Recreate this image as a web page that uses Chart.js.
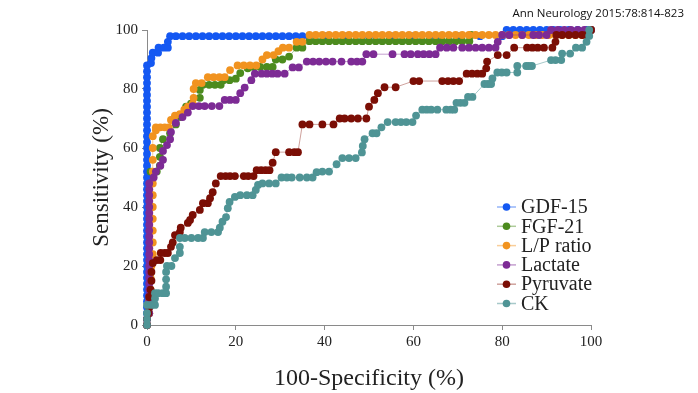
<!DOCTYPE html>
<html>
<head>
<meta charset="utf-8">
<script src="https://cdn.jsdelivr.net/npm/chart.js@4.4.1/dist/chart.umd.min.js"></script>
<style>
  html, body { margin: 0; padding: 0; background: #fff; }
  #box { position: relative; width: 698px; height: 393px; }
</style>
</head>
<body>
<div id="box"><canvas id="stage"></canvas></div>
<script>
// ROC curves, [100-specificity, sensitivity]
const seriesNames = ['GDF-15', 'FGF-21', 'L/P ratio', 'Lactate', 'Pyruvate', 'CK'];
const seriesColors = ['#1458f2', '#4c8b1e', '#f1931f', '#7d2b95', '#7b0e05', '#4f9495'];
const lineColors = ['rgba(20,88,242,0.45)', 'rgba(76,139,30,0.45)', 'rgba(241,147,31,0.45)',
                    'rgba(125,43,149,0.45)', 'rgba(160,70,60,0.5)', 'rgba(79,148,149,0.5)'];
const xTicks = [0, 20, 40, 60, 80, 100];
const yTicks = [0, 20, 40, 60, 80, 100];
const citation = 'Ann Neurology 2015:78:814-823';

const gdf15 = [[0,0],[0,2],[0,4],[0,6],[0,8],[0,10],[0,12],[0,14],[0,16],[0,18],[0,20],[0,22],[0,24],[0,26],[0,28],[0,30],
  [0,32],[0,34],[0,36],[0,38],[0,40],[0,42],[0,44],[0,46],[0,48],[0,50],[0,52],[0,54],[0,56],[0,58],[0,60],[0,62],[0,64],
  [0,66],[0,68],[0,70],[0,72],[0,74],[0,76],[0,78],[0,80],[0,82],[0,84],[0,86],[0,88],[0.9,88.8],[1,90.5],[1.3,92.3],
  [2.5,92.3],[2.6,94],[3.8,94],[4.7,94],[4.7,96],[5.2,97.9],[6.5,97.9],[8,97.9],[9.5,97.9],[11,97.9],[12.5,97.9],[14,97.9],
  [15.5,97.9],[17,97.9],[18.5,97.9],[20,97.9],[21.5,97.9],[23,97.9],[24.5,97.9],[26,97.9],[27.5,97.9],[29,97.9],[30.5,97.9],
  [32,97.9],[33.5,97.9],[35,97.9],[36.5,97.9],[40,97.9],[45,97.9],[50,97.9],[55,97.9],[60,97.9],[65,97.9],[70,97.9],
  [75,97.9],[80,97.9],[81,100],[82.5,100],[84,100],[85.5,100],[87,100],[88.5,100],[90,100],[91.5,100],[93,100],[95,100],
  [97,100],[99,100],[100,100]];

const fgf21 = [[0,0],[0.5,4],[0.5,8],[0.7,12],[0.7,16],[0.8,20],[0.8,24],[0.8,28],[0.8,32],[0.8,36],[0.8,40],[0.8,44],
  [0.8,48],[0.8,52],[2.2,52],[2.9,54],[2.9,57],[2.9,60],[3.6,63],[5.2,65],[6.5,68],[7.6,70.5],[8.8,74],[9.9,75],[11.9,77],
  [11.9,79.7],[12.6,81.4],[14,81.4],[15.3,81.4],[16.6,81.4],[17.2,83],[18.6,83],[20,83.5],[21,85.4],[22.7,87],[24,87.5],
  [25.5,87.5],[27,87.5],[28.3,87.5],[29,90],[30.5,90],[32,91],[33.7,94],[35,94],[36.6,96.2],[38,96.2],[39.5,96.2],
  [41,96.2],[42.5,96.2],[44,96.2],[45.5,96.2],[47,96.2],[48.5,96.2],[50,96.2],[51.5,96.2],[53,96.2],[54.5,96.2],
  [56,96.2],[57.5,96.2],[59,96.2],[60.5,96.2],[62,96.2],[63.5,96.2],[65,96.2],[66.5,96.2],[68,96.2],[69.5,96.2],
  [71,96.2],[72.6,96.2],[73,98.3],[100,100]];

const lpRatio = [[0,0],[0.5,4],[0.5,8],[0.8,12],[0.8,16],[1,20],[1.3,24],[1.3,28],[1.3,32],[1.3,36],[1.3,40],[1.3,44],
  [1.3,48],[1.3,52],[1.3,56],[1.3,60],[1.3,64],[2,66],[2,67],[3,67],[4,67],[4.9,67],[5.4,69.5],[6.3,71],[7.4,71.5],
  [8.4,73],[9.2,74],[10.3,75],[10.5,77],[10.5,80],[11,82],[12.3,82],[13.7,84],[15,84],[16.3,84],[17.5,84],[18.7,86.4],
  [20.4,88],[21.8,88],[23.2,88],[24.6,88],[26,90],[27,91.5],[28.5,91.5],[29.6,92.8],[30.6,94],[32,94],[33.7,96],[35,96],
  [36.6,98.3],[38,98.3],[39.5,98.3],[41,98.3],[42.5,98.3],[44,98.3],[45.5,98.3],[47,98.3],[48.5,98.3],[50,98.3],
  [51.5,98.3],[53,98.3],[54.5,98.3],[56,98.3],[57.5,98.3],[59,98.3],[60.5,98.3],[62,98.3],[63.5,98.3],[65,98.3],
  [66.5,98.3],[68,98.3],[69.5,98.3],[71,98.3],[72.5,98.3],[74,98.3],[75.5,98.3],[77,98.3],[78.5,98.3],[80,98.3],
  [81.5,98.3],[83,98.3],[84.5,98.3],[86,98.3],[87.5,98.3],[89,98.3],[90.5,98.3],[92,98.3],[93.5,98.3],[95,98.3],
  [96.5,98.3],[98,98.3],[99.3,98.3],[100,100]];

const lactate = [[0,0],[0,2],[0.5,4],[0.5,6],[0.5,8],[0.5,10],[0.5,12],[0.5,14],[0.5,16],[0.5,18],[0.5,20],[0.5,22],
  [0.5,24],[0.5,26],[0.5,28],[0.5,30],[0.5,32],[0.5,34],[0.5,36],[0.5,38],[0.5,40],[0.5,42],[0.5,44],[0.5,46],[0.5,48],
  [1.5,50],[2,52],[3,54],[3.6,56],[3.6,59],[4.5,61],[5.2,63],[5.4,65.4],[6.5,68.5],[8,70.5],[9.2,72],[10.3,74.2],
  [11.7,74.2],[13,74.2],[14.6,74.2],[16.3,74.2],[17.5,76.3],[18.7,76.3],[20,76.3],[21,78.6],[22,80.5],[23.5,83],
  [24.3,85.2],[25.8,85.2],[27,85.2],[28.2,85.2],[29.4,85.2],[31,85.2],[32.8,87.3],[34.2,87.3],[36,89.3],[37.4,89.3],
  [38.8,89.3],[40.3,89.3],[41.8,89.3],[43.8,89.3],[46,89.3],[47.3,89.3],[48.5,89.3],[49.4,91.8],[51,91.8],[55.3,91.8],
  [58,91.8],[59.4,91.8],[61,91.8],[62.3,91.8],[63.6,91.8],[65,91.8],[66,94],[67.5,94],[69,94],[71,94],[72.5,94],
  [74,94],[75.5,94],[77,94],[78.5,94],[79,96],[80,98.3],[81.6,98.3],[84.5,98.3],[87,98.3],[88.3,98.3],[90,98.3],
  [91,100],[92.5,100],[94,100],[95.5,100],[97,100],[98.5,100],[100,100]];

const pyruvate = [[0,0],[0,2],[0.3,4],[0.5,6],[0.5,9.5],[0.8,12],[1,15],[1,18],[1.3,21],[2.2,22],[3,22],[3.1,24.4],
  [4,24.4],[4.7,24.4],[5.4,26.5],[5.8,28],[6.3,30.5],[7.4,31.5],[7.6,33],[9.2,34.6],[9.7,35.6],[10.3,37.3],[11.9,39],
  [12.6,41.3],[13.7,41.3],[14.2,43],[14.8,45],[15.5,48],[16.6,50.5],[17.7,50.5],[18.7,50.5],[19.8,50.5],[21.8,50.5],
  [22.8,50.5],[24,50.5],[24.7,52.5],[25.7,52.5],[26.7,52.5],[27.6,52.5],[28.3,55],[29,58.6],[32,58.6],[33.2,58.6],
  [34,58.6],[35,68],[36.6,68],[39.5,68],[42,68],[43.4,70],[44.5,70],[46,70],[47.5,70],[49.4,70],[50,74],[51.2,76.3],
  [52,78.6],[53.5,80.6],[56,80.6],[60,82.7],[61.3,82.7],[66.5,82.7],[67.8,82.7],[69,82.7],[70.3,82.7],[72,85.2],
  [73.2,85.2],[74.4,85.2],[75.5,85.2],[76.4,87],[76.6,89.3],[79,91.5],[81,91.5],[82.7,94],[85.6,94],[86.8,94],[88,94],
  [89.4,94],[91.3,94],[92,96],[92.2,98.3],[93.5,98.3],[95,98.3],[96.5,98.3],[98,98.3],[99,98.3],[100,100]];

const ck = [[0,0],[0,2],[0,4],[0,6.8],[1,6.8],[1.8,6.8],[1.8,9],[1.8,10.8],[2.5,10.8],[3.5,10.8],[4.3,10.8],[4.3,13],
  [4.3,15.5],[4.3,18],[4.5,20],[5.5,20],[6.3,22.7],[7.4,24.4],[7.4,26.5],[7.4,29.5],[8.5,29.5],[10,29.5],[11.5,29.5],
  [12.6,29.5],[13,31.5],[14.5,31.5],[16,31.5],[16.4,33],[17,35],[17.8,36.6],[18.2,39.6],[18.6,41.7],[19.8,43.4],[21,44],
  [22.5,44],[23.8,44],[24.5,45.8],[25,47.5],[26,48],[27.5,48],[29,48],[30.3,50],[31.5,50],[32.6,50],[34.4,50],[36,50],
  [37.3,50],[38.2,51.8],[39.5,52],[41,52],[42.7,54.5],[44,56.6],[45.5,56.6],[47,56.6],[48.4,58.5],[48.6,60.7],[49,63],
  [50.8,65],[51.7,65],[52.8,67],[54.2,68.8],[56,68.8],[57.2,68.8],[58.4,68.8],[59.8,68.8],[60.6,71],[62,73],[63,73],
  [64,73],[65.4,73],[67.4,73],[68.4,73],[69.2,73],[69.7,75.3],[70.6,75.3],[71.5,75.3],[72.3,77.3],[73.3,77.3],
  [76,81.7],[76.8,81.7],[77.5,81.7],[77.8,83.6],[78.9,85.6],[79.9,85.6],[81,85.6],[83.4,85.6],[83.4,87.8],[85.4,87.8],
  [86,87.8],[86.7,87.8],[91,89.8],[92,89.8],[93.3,89.8],[93.5,92],[95.3,92],[96.6,94],[98,94],[99,96],[99.6,98],
  [99.6,100]];

const seriesData = [gdf15, fgf21, lpRatio, lactate, pyruvate, ck];

// legend and citation drawn on top of the plot
const overlay = {
    id: 'overlay',
    afterDraw(chart) {
        const ctx = chart.ctx;
        const a = chart.chartArea;
        ctx.save();
        chart.data.datasets.forEach((ds, i) => {
            const y = a.bottom - 118 + i * 19.3;
            const x = a.right - 94;
            ctx.strokeStyle = ds.borderColor;
            ctx.lineWidth = 1.5;
            ctx.beginPath();
            ctx.moveTo(x, y);
            ctx.lineTo(x + 19, y);
            ctx.stroke();
            ctx.fillStyle = ds.pointBackgroundColor;
            ctx.beginPath();
            ctx.arc(x + 9.5, y, 3.8, 0, Math.PI * 2);
            ctx.fill();
            ctx.fillStyle = '#222';
            ctx.font = '20px "Liberation Serif"';
            ctx.textAlign = 'left';
            ctx.textBaseline = 'middle';
            ctx.fillText(ds.label, x + 24, y + 1);
        });
        ctx.fillStyle = '#111';
        ctx.font = '11.5px "Open Sans"';
        ctx.textAlign = 'right';
        ctx.textBaseline = 'middle';
        ctx.fillText(citation, 684, 14);
        ctx.restore();
    }
};

const datasets = seriesNames.map((name, i) => ({
    label: name,
    data: seriesData[i].map(p => ({ x: p[0], y: p[1] })),
    showLine: true,
    borderColor: lineColors[i],
    borderWidth: 1,
    pointRadius: 3.9,
    pointBorderWidth: 0,
    pointBackgroundColor: seriesColors[i],
    pointBorderColor: seriesColors[i],
    clip: false,
    order: seriesNames.length - i   // later series drawn on top
}));

new Chart(document.getElementById('stage'), {
    type: 'scatter',
    data: { datasets: datasets },
    options: {
        responsive: true,
        maintainAspectRatio: false,
        animation: false,
        layout: { padding: { left: 80, right: 107, top: 30, bottom: 0 } },
        plugins: {
            legend: { display: false },
            tooltip: { enabled: false }
        },
        scales: {
            x: {
                type: 'linear',
                min: 0, max: 100,
                afterFit: (s) => { s.height = 68; },
                afterBuildTicks: (s) => { s.ticks = xTicks.map(v => ({ value: v })); },
                grid: { drawOnChartArea: false, drawTicks: true, tickLength: 5, color: '#8a8a8a' },
                border: { display: true, color: '#8a8a8a', width: 1 },
                ticks: { padding: 3, color: '#222', font: { family: 'Liberation Serif', size: 15 } },
                title: {
                    display: true,
                    text: '100-Specificity (%)',
                    color: '#222',
                    font: { family: 'Liberation Serif', size: 24 },
                    padding: { top: 0, bottom: 0 }
                }
            },
            y: {
                type: 'linear',
                min: 0, max: 100,
                afterFit: (s) => { s.width = 67; },
                afterBuildTicks: (s) => { s.ticks = yTicks.map(v => ({ value: v })); },
                grid: { drawOnChartArea: false, drawTicks: true, tickLength: 5, color: '#8a8a8a' },
                border: { display: true, color: '#8a8a8a', width: 1 },
                ticks: { padding: 4, color: '#222', font: { family: 'Liberation Serif', size: 15 } },
                title: {
                    display: true,
                    text: 'Sensitivity (%)',
                    color: '#222',
                    font: { family: 'Liberation Serif', size: 23 },
                    padding: { top: 8, bottom: 0 }
                }
            }
        }
    },
    plugins: [overlay]
});
</script>
</body>
</html>
